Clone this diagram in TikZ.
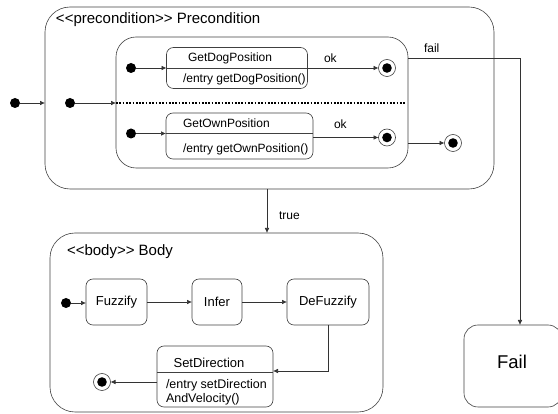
\documentclass[tikz,border=0pt]{standalone}
\usepackage{fontspec}
\setmainfont{Liberation Sans}
\usetikzlibrary{arrows.meta}
\begin{document}
\begin{tikzpicture}[x=1pt,y=-1pt,
  line width=0.6pt,
  every node/.style={inner sep=0pt, outer sep=0pt},
  composite/.style={draw=black!75, rounded corners=25pt},
  statebox/.style={draw=black!75, rounded corners=7pt},
  initdot/.style={circle, fill=black, minimum size=10pt},
  finalst/.style={circle, draw=black!75, fill=white, minimum size=17pt,
    path picture={\fill[black] (path picture bounding box.center) circle (4.8pt);}},
  trans/.style={draw=black!80, -{Latex[length=5pt,width=4.5pt]}},
  lbl/.style={font=\fontsize{12}{14}\selectfont, anchor=west},
  txt/.style={font=\fontsize{12}{14}\selectfont, anchor=west},
  btxt/.style={font=\fontsize{13}{15}\selectfont},
  ttl/.style={font=\fontsize{15}{18}\selectfont, anchor=west}
]
\useasboundingbox (0,0) rectangle (558,414);
\clip (0,0) rectangle (558,414);

% Precondition composite state
\node[composite, minimum width=449pt, minimum height=182pt] (pre) at (269.5,98) {};
\node[ttl] (pretitle) at (56,20) {{<}{<}precondition{>}{>} Precondition};
\node[composite, rounded corners=20pt, minimum width=292pt, minimum height=131pt] (inner) at (262,102.5) {};

% concurrent region separator
\coordinate (sepend) at (406,103);
\draw[line width=1.7pt, dash pattern=on 1.7pt off 1.6pt] (sepend -| inner.west) -- (sepend);

% GetDogPosition
\node[statebox, minimum width=141pt, minimum height=41pt] (dog) at (237,68) {};
\draw[black!75] (dog.west) -- (dog.east);
\node[txt] (dogname) at (188,58) {GetDogPosition};
\node[txt] (dogentry) at (183,79) {/entry getDogPosition()};

% GetOwnPosition
\node[statebox, minimum width=147pt, minimum height=46pt] (own) at (239.5,136) {};
\coordinate (owndiv) at (0,133.5);
\draw[black!75] (owndiv -| own.west) -- (owndiv -| own.east);
\node[txt] (ownname) at (183,123) {GetOwnPosition};
\node[txt] (ownentry) at (183,149) {/entry getOwnPosition()};

% pseudo states of the precondition
\node[initdot] (i0) at (15,103) {};
\node[initdot] (i1) at (70,103) {};
\node[initdot] (d1) at (131,68) {};
\node[initdot] (d2) at (131,133.5) {};
\node[finalst] (f1) at (387,68) {};
\node[finalst] (f2) at (387,137.5) {};
\node[finalst] (f3) at (453,143) {};

\draw[trans] (i0) -- (i0 -| pre.west);
\draw[trans] (i1) -- (i1 -| inner.west);
\draw[trans] (d1) -- (d1 -| dog.west);
\draw[trans] (d2) -- (d2 -| own.west);
\draw[trans] (f1 -| dog.east) -- (f1);
\node[lbl] (ok1) at (324,58) {ok};
\draw[trans] (f2 -| own.east) -- (f2);
\node[lbl] (ok2) at (334,124) {ok};
\draw[trans] (f3 -| inner.east) -- (f3);

% Fail state
\node[statebox, rounded corners=14pt, minimum width=98pt, minimum height=82pt] (failbox) at (513,366) {};
\node[font=\fontsize{18.5}{22}\selectfont] (failtext) at (512,362) {Fail};
\coordinate (failturn) at (520,58);
\draw[trans] (failturn -| inner.east) -- (failturn) -- (failturn |- failbox.north);
\node[lbl] (faillbl) at (424,48) {fail};

% Body composite state
\node[composite, minimum width=333pt, minimum height=179pt] (body) at (216.5,322.5) {};
\node[ttl] (bodytitle) at (67,252) {{<}{<}body{>}{>} Body};

\coordinate (truex) at (267,0);
\draw[trans] (truex |- pre.south) -- (truex |- body.north);
\node[lbl] (truelbl) at (279,216) {true};

\node[statebox, minimum width=61pt, minimum height=46pt] (fuzz) at (116.5,302) {};
\node[btxt] at (fuzz.center) {Fuzzify};
\node[statebox, minimum width=50pt, minimum height=46pt] (infer) at (217,302) {};
\node[btxt] at (infer.center) {Infer};
\node[statebox, minimum width=82pt, minimum height=46pt] (defuzz) at (328,302) {};
\node[btxt] at (defuzz.center) {DeFuzzify};

\node[statebox, minimum width=116pt, minimum height=61pt] (setdir) at (215,376.5) {};
\coordinate (setdiv) at (0,372);
\draw[black!75] (setdiv -| setdir.west) -- (setdiv -| setdir.east);
\node[btxt] (setname) at (209,363) {SetDirection};
\node[txt, align=left, font=\fontsize{12.5}{14}\selectfont, anchor=north west] (setentry) at (166,379) {/entry setDirection\\AndVelocity()};

\node[initdot] (b0) at (66,303) {};
\node[finalst] (bf) at (102,382) {};

\draw[trans] (b0) -- (b0 -| fuzz.west);
\draw[trans] (fuzz.east) -- (infer.west);
\draw[trans] (infer.east) -- (defuzz.west);
\draw[trans] (defuzz.south) |- ([yshift=5.5pt]setdir.east);
\draw[trans] (bf -| setdir.west) -- (bf);
\end{tikzpicture}
\end{document}
